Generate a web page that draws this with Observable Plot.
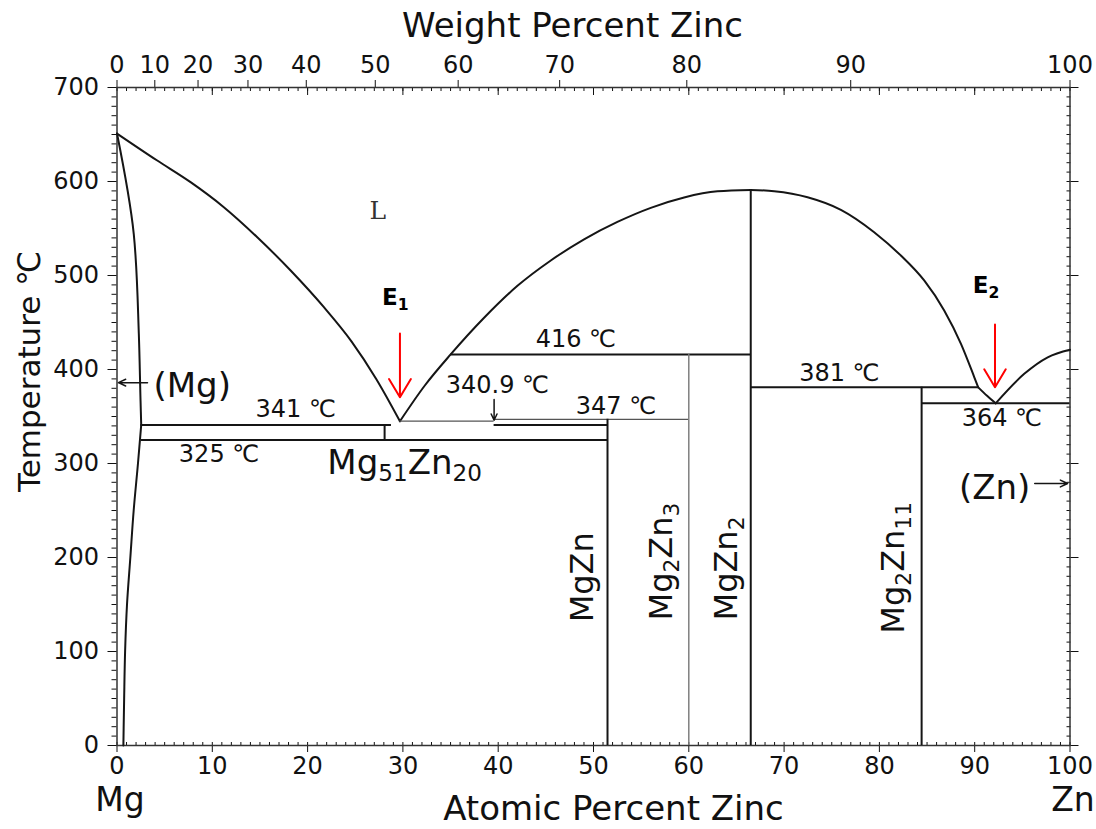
<!DOCTYPE html>
<html>
<head>
<meta charset="utf-8">
<script src="https://cdn.jsdelivr.net/npm/d3@7"></script>
<script src="https://cdn.jsdelivr.net/npm/@observablehq/plot@0.6"></script>
<style>
  html, body { margin: 0; padding: 0; background: #fff; }
  #chart { width: 1096px; height: 829px; }
</style>
</head>
<body>
<div id="chart"></div>
<script>
// ---------- tick values ----------
const atomicTicks = [0, 10, 20, 30, 40, 50, 60, 70, 80, 90, 100];
const atomicMidTicks = [10, 20, 30, 40, 50, 60, 70, 80, 90];
const atomicMinorTicks = d3.range(0, 101, 1);
const weightTicks = [0, 10, 20, 30, 40, 50, 60, 70, 80, 90, 100];
const tempTicks = [0, 100, 200, 300, 400, 500, 600, 700];
const tempMinorTicks = d3.range(0, 701, 10);

// molar masses for the weight-percent (top) axis
const M_MG = 24.305, M_ZN = 65.38;
const wtToAt = w => { const a = w / M_ZN, b = (100 - w) / M_MG; return 100 * a / (a + b); };
const atToWt = a => 100 * a * M_ZN / (a * M_ZN + (100 - a) * M_MG);

// ---------- phase boundaries [at% Zn, °C] ----------
const liquidusMg = [[0, 651], [4.22, 622.3], [7.72, 599.3], [11.21, 572.7], [14.72, 540.7], [18.22, 505.3], [21.71, 466.3], [24.6, 430], [27.2, 390], [29.69, 345]];
const liquidusMgZn2Left = [[29.69, 345], [32.3, 383], [35.01, 416], [38.52, 455], [42.02, 489], [45.52, 516], [49.01, 538.5], [52.51, 557], [56.01, 572], [59.51, 583], [63.01, 589.5], [66.5, 591]];
const liquidusMgZn2Right = [[66.5, 591], [68.96, 589.7], [72.46, 583.3], [75.96, 569.9], [79.45, 546.1], [82.25, 521.3], [84.70, 494.7], [86.80, 462.8], [88.56, 427.3], [89.95, 392.0], [90.37, 381]];
const liquidusToE2 = [[90.37, 381], [91.3, 372], [92.2, 364]];
const liquidusZn = [[92.2, 364], [95.2, 395.4], [97.66, 413], [100, 421]];
const solvusMg = [[0.67, 0], [0.75, 50], [0.85, 100], [1.05, 150], [1.4, 200], [1.75, 250], [2.2, 300], [2.54, 341]];
const solidusMg = [[2.54, 341], [2.47, 367], [2.29, 438], [1.76, 544], [0, 651]];

// isotherms
const isothermsBold = [
  {T: 341, from: 2.54, to: 28.8},
  {T: 325, from: 2.54, to: 51.47},
  {T: 341, from: 39.57, to: 51.47},
  {T: 416, from: 35.01, to: 66.5},
  {T: 381, from: 66.5, to: 90.37},
  {T: 364, from: 84.43, to: 100}
];
const isothermsThin = [
  {T: 345, from: 29.69, to: 39.57},
  {T: 347, from: 39.57, to: 60}
];

// compound lines
const compoundsBold = [
  {at: 28.08, T1: 325, T2: 341},
  {at: 51.47, T1: 0, T2: 347},
  {at: 66.5, T1: 0, T2: 591},
  {at: 84.43, T1: 0, T2: 381}
];
const compoundsThin = [{at: 60, T1: 0, T2: 416}];

// ---------- annotations ----------
const tempLabels = [
  {text: "341 ℃", at: 14.54, T: 349},
  {text: "325 ℃", at: 6.49, T: 301.4},
  {text: "416 ℃", at: 43.93, T: 423.7},
  {text: "340.9 ℃", at: 34.49, T: 374.8},
  {text: "347 ℃", at: 48.14, T: 352.9},
  {text: "381 ℃", at: 71.58, T: 387.6},
  {text: "364 ℃", at: 88.63, T: 340.4}
];
const phaseLabels = [
  {text: "(Mg)", at: 3.83, T: 370.5},
  {text: "Mg_{51}Zn_{20}", at: 22.07, T: 289},
  {text: "(Zn)", at: 88.35, T: 262}
];
const compoundLabels = [
  {text: "MgZn", at: 48.84, T: 131},
  {text: "Mg_{2}Zn_{3}", at: 57.15, T: 133},
  {text: "MgZn_{2}", at: 63.98, T: 133},
  {text: "Mg_{2}Zn_{11}", at: 81.47, T: 119}
];
const liquidLabel = [{text: "L", at: 26.5, T: 560.6}];
const eutecticLabels = [
  {text: "E_{1}", at: 27.8, T: 469},
  {text: "E_{2}", at: 89.8, T: 481}
];
const eutecticArrows = [
  {at: 29.69, from: 438.3, to: 370.5},
  {at: 92.13, from: 447.9, to: 381.2}
];
const pointerArrows = [
  {x1: 3.2, y1: 386, x2: 0.15, y2: 386},
  {x1: 39.57, y1: 368, x2: 39.57, y2: 346},
  {x1: 96.3, y1: 278.7, x2: 99.75, y2: 278.7}
];
const endLabels = [{text: "Mg", at: 0}, {text: "Zn", at: 100}];

const INK = "#151515";
const curveLine = (curve) => ({x: p => p[0], y: p => p[1], stroke: INK, strokeWidth: 2, curve});

const chart = Plot.plot({
  width: 1096,
  height: 829,
  marginLeft: 116.5,
  marginRight: 26.5,
  marginTop: 87,
  marginBottom: 84,
  style: {fontFamily: "'DejaVu Sans', 'Liberation Sans', sans-serif", color: "#111", background: "#fff", overflow: "visible"},
  x: {domain: [0, 100], label: null},
  y: {domain: [0, 700], label: null},
  marks: [
    // axes
    Plot.axisX({anchor: "bottom", ticks: atomicTicks, tickSize: 7, tickPadding: 4, fontSize: 24, label: null}),
    Plot.axisX({anchor: "bottom", ticks: atomicMinorTicks, tickSize: 3, insetBottom: 3, tickFormat: () => "", label: null}),
    Plot.axisX({anchor: "top", ticks: weightTicks.map(wtToAt), tickSize: 8, tickPadding: 7, fontSize: 24, label: null,
      tickFormat: d => String(Math.round(atToWt(d)))}),
    Plot.axisX({anchor: "top", ticks: atomicMidTicks, tickSize: 7, insetTop: 7, tickFormat: () => "", label: null}),
    Plot.axisX({anchor: "top", ticks: atomicMinorTicks, tickSize: 3, insetTop: 3, tickFormat: () => "", label: null}),
    Plot.axisY({anchor: "left", ticks: tempTicks, tickSize: 9, tickPadding: 9, fontSize: 24, label: null}),
    Plot.axisY({anchor: "left", ticks: tempMinorTicks, tickSize: 5, tickFormat: () => "", label: null}),
    Plot.axisY({anchor: "right", ticks: tempTicks, tickSize: 8, tickFormat: () => "", label: null}),
    Plot.axisY({anchor: "right", ticks: tempMinorTicks, tickSize: 4, insetRight: 4, tickFormat: () => "", label: null}),
    Plot.frame({stroke: "#333", strokeWidth: 1.5}),

    // axis titles and end labels
    Plot.text(["Weight Percent Zinc"], {text: d => d, frameAnchor: "top", textAnchor: "middle", dx: -21, dy: -51, lineAnchor: "bottom", fontSize: 34}),
    Plot.text(["Atomic Percent Zinc"], {text: d => d, frameAnchor: "bottom", textAnchor: "middle", dx: 20, dy: 74, lineAnchor: "bottom", fontSize: 34}),
    Plot.text(["Temperature ℃"], {text: d => d, frameAnchor: "left", textAnchor: "middle", dx: -86.5, dy: -45, rotate: -90, lineAnchor: "middle", fontSize: 31}),
    Plot.text(endLabels, {x: "at", text: "text", frameAnchor: "bottom", textAnchor: "middle", dx: 3, dy: 65, lineAnchor: "bottom", fontSize: 33}),

    // phase boundaries
    Plot.line(liquidusMg, curveLine("monotone-x")),
    Plot.line(liquidusMgZn2Left, curveLine("monotone-x")),
    Plot.line(liquidusMgZn2Right, curveLine("monotone-x")),
    Plot.line(liquidusToE2, curveLine("monotone-x")),
    Plot.line(liquidusZn, curveLine("monotone-x")),
    Plot.line(solvusMg, curveLine("monotone-y")),
    Plot.line(solidusMg, curveLine("monotone-y")),
    Plot.ruleY(isothermsBold, {y: "T", x1: "from", x2: "to", stroke: INK, strokeWidth: 2}),
    Plot.ruleY(isothermsThin, {y: "T", x1: "from", x2: "to", stroke: "#555", strokeWidth: 1.3}),
    Plot.ruleX(compoundsBold, {x: "at", y1: "T1", y2: "T2", stroke: INK, strokeWidth: 2}),
    Plot.ruleX(compoundsThin, {x: "at", y1: "T1", y2: "T2", stroke: "#777", strokeWidth: 1.4}),

    // arrows
    Plot.arrow(eutecticArrows, {x: "at", y1: "from", y2: "to", stroke: "#f00", strokeWidth: 2, headLength: 21, headAngle: 62}),
    Plot.arrow(pointerArrows, {x1: "x1", y1: "y1", x2: "x2", y2: "y2", stroke: INK, strokeWidth: 1.5, headLength: 8, headAngle: 50}),

    // labels
    Plot.text(tempLabels, {x: "at", y: "T", text: "text", textAnchor: "start", lineAnchor: "bottom", fontSize: 24, fill: "#111"}),
    Plot.text(phaseLabels, {x: "at", y: "T", text: "text", textAnchor: "start", lineAnchor: "bottom", fontSize: 34, fill: "#111"}),
    Plot.text(compoundLabels, {x: "at", y: "T", text: "text", textAnchor: "start", lineAnchor: "middle", rotate: -90, fontSize: 32, fill: "#111"}),
    Plot.text(liquidLabel, {x: "at", y: "T", text: "text", textAnchor: "start", lineAnchor: "bottom", fontSize: 25, fontFamily: "'DejaVu Serif', 'Liberation Serif', serif", fill: "#333"}),
    Plot.text(eutecticLabels, {x: "at", y: "T", text: "text", textAnchor: "start", lineAnchor: "bottom", fontSize: 23, fontWeight: "bold", fill: "#000"})
  ]
});

// turn "_{...}" into subscripts
function applySubscripts(svg) {
  d3.select(svg).selectAll("text").each(function () {
    const s = this.textContent;
    if (!s.includes("_{")) return;
    const parts = s.split(/_\{([^}]*)\}/);
    while (this.firstChild) this.removeChild(this.firstChild);
    let reset = false;
    parts.forEach((p, i) => {
      if (!p) return;
      const t = document.createElementNS("http://www.w3.org/2000/svg", "tspan");
      if (i % 2) {
        t.setAttribute("font-size", "0.68em");
        t.setAttribute("dy", "0.32em");
        reset = true;
      } else if (reset) {
        t.setAttribute("dy", "-0.2176em");
        reset = false;
      }
      t.textContent = p;
      this.appendChild(t);
    });
  });
}
applySubscripts(chart);
document.getElementById("chart").appendChild(chart);
</script>
</body>
</html>
